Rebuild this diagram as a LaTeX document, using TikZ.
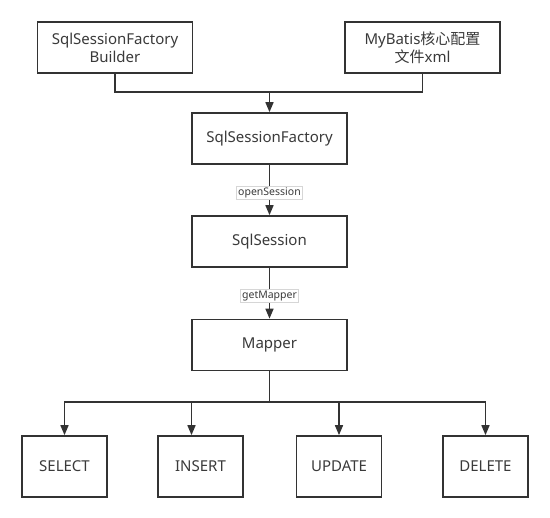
\documentclass[tikz,border=0pt]{standalone}
\usepackage{fontspec}
\setmainfont{Noto Sans}
\newfontfamily\cjk{Noto Sans CJK SC}
\usepackage{xcolor}
\usepackage{tikz}
\usetikzlibrary{arrows.meta,positioning}

\definecolor{linegray}{HTML}{333333}
\definecolor{textgray}{HTML}{3A3A3A}
\definecolor{labelframe}{HTML}{D6D6D6}

\tikzset{
  box/.style={draw=linegray, line width=1.6pt, fill=white, text=textgray,
    minimum width=155pt, minimum height=51pt, inner sep=0pt, align=center,
    font=\fontsize{15}{18}\selectfont},
  opbox/.style={box, minimum width=85pt, minimum height=61pt},
  flow/.style={draw=linegray, line width=1.6pt, -{Triangle[width=8pt,length=10pt]}},
  wire/.style={draw=linegray, line width=1.6pt},
  calllabel/.style={draw=labelframe, line width=0.5pt, fill=white, text=textgray,
    inner sep=1.5pt, font=\fontsize{10.5}{12}\selectfont}
}

\begin{document}
\begin{tikzpicture}[x=1pt,y=-1pt]

\useasboundingbox (0,0) rectangle (550,518);

% upper row
\node[box] (builder) at (115,47.5) {SqlSessionFactory\\Builder};
\node[box] (config) at (422.5,47.5) {MyBatis{\cjk 核心配置}\\{\cjk 文件}xml};

% middle column
\node[box] (factory) at (269.5,138.5) {SqlSessionFactory};
\node[box] (session) at (269.5,241.5) {SqlSession};
\node[box] (mapper) at (269.5,345) {Mapper};

% operations
\node[opbox] (select) at (64.5,466.5) {SELECT};
\node[opbox] (insert) at (200.5,466.5) {INSERT};
\node[opbox] (update) at (339,466.5) {UPDATE};
\node[opbox] (delete) at (485.5,466.5) {DELETE};

\coordinate (join) at (269.5,92);
\coordinate (split) at (269.5,402);

\draw[wire] (builder.south) |- (join) -| (config.south);
\draw[flow] (join) -- (factory.north);

\draw[flow] (factory) -- node[calllabel, pos=0.55] {openSession} (session);
\draw[flow] (session) -- node[calllabel, pos=0.55] {getMapper} (mapper);

\draw[wire] (mapper.south) -- (split);
\draw[flow] (split) -| (select.north);
\draw[flow] (split) -| ([xshift=-9pt]insert.north);
\draw[flow] (split) -| (update.north);
\draw[flow] (split) -| (delete.north);

\end{tikzpicture}
\end{document}
